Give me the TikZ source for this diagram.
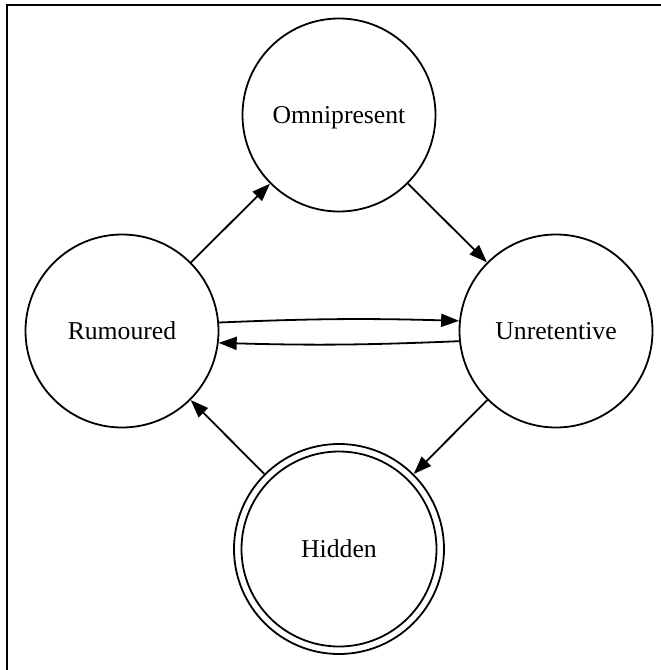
\documentclass[tikz,border=0pt]{standalone}
\usepackage{fontspec}
\setmainfont{Liberation Serif}
\usetikzlibrary{arrows.meta}
\begin{document}
\begin{tikzpicture}[x=1pt,y=-1pt,
  every path/.style={line width=1.8pt},
  state/.style={circle,draw,line width=1.8pt,minimum size=193pt,inner sep=0pt,
    font=\fontsize{25.7}{30}\selectfont,text height=17pt,text depth=1pt},
  accepting/.style={state,minimum size=210pt},
  edge/.style={draw,line width=1.8pt,-{Triangle[length=18pt,width=13pt]}}]
  \useasboundingbox (0,0) rectangle (661,670);
  % frame
  \draw[line width=2pt] (6.5,670) -- (6.5,5) -- (661,5);
  % states
  \node[state] (omni) at (339,115) {Omnipresent};
  \node[state] (rum) at (122,331) {Rumoured};
  \node[state] (unr) at (556,331) {Unretentive};
  \node[accepting] (hid) at (339,549) {Hidden};
  \draw[line width=1.8pt] (hid.center) circle[radius=97.5pt];
  % transitions
  \draw[edge] (rum) -- (omni);
  \draw[edge] (omni) -- (unr);
  \draw[edge] (rum.5.5) to[bend left=2] (unr.174.5);
  \draw[edge] (unr.186.5) to[bend left=2] (rum.353.5);
  \draw[edge] (unr) -- (hid);
  \draw[edge] (hid) -- (rum);
\end{tikzpicture}
\end{document}
